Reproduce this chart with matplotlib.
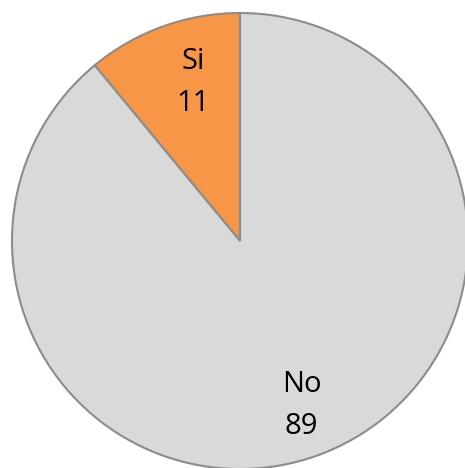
import matplotlib
matplotlib.use("Agg")
import matplotlib.pyplot as plt

labels = ["Si", "No"]
values = [11, 89]
colors = ["#F79646", "#D9D9D9"]

# where the data labels sit, in pie radius units
label_xy = [(-0.205, 0.695), (0.27, -0.72)]

fig = plt.figure(figsize=(4.65, 4.68), dpi=100)
ax = fig.add_axes([12/465, -1/468, 456/465, 456/468])
wedges, _ = ax.pie(values, colors=colors, startangle=90, counterclock=True,
                   wedgeprops=dict(edgecolor="#8C8C8C", linewidth=1.5))
for (x, y), lab, val in zip(label_xy, labels, values):
    ax.text(x, y, f"{lab}\n{val}", ha="center", va="center",
            fontsize=21, linespacing=1.6,
            family=["Open Sans", "DejaVu Sans"], color="black")
ax.set_xlim(-1, 1)
ax.set_ylim(-1, 1)
ax.set_aspect("equal")
ax.axis("off")
fig.savefig("out.png", dpi=100)
